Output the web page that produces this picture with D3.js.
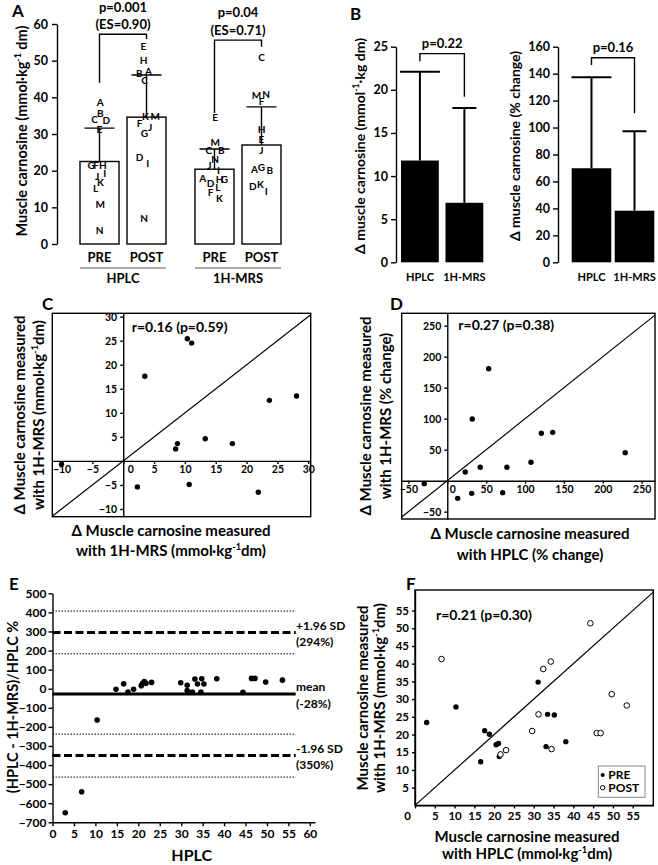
<!DOCTYPE html>
<html>
<head>
<meta charset="utf-8">
<script src="https://cdn.jsdelivr.net/npm/d3@7"></script>
<style>
  body { margin: 0; background: #fff; }
  svg text { font-family: Lato, "Open Sans", sans-serif; font-weight: 700; fill: #000; }
</style>
</head>
<body>
<svg id="chart" width="658" height="865"></svg>
<script>
// ---- A: carnosine per subject, bars = mean, whisker = SD
const methods = ["HPLC", "1H-MRS"];
const times = ["PRE", "POST"];
const meanA = [22.5, 34.6, 20.4, 27.0];
const sdA = [9.1, 11.5, 5.5, 10.4];
const subjectsA = ["ABCDEFGHIJKLMN", "EHBACKMFJGDIN", "EMCBNJIAHGDLFK", "CNMFHEJGABKDI"];
const valuesA = [
  [38.7, 35.5, 33.9, 33.7, 31.3, 21.4, 21.4, 21.4, 19.3, 18.4, 16.7, 15.2, 10.8, 3.8],
  [54.0, 50.0, 46.6, 47.2, 44.5, 34.7, 34.7, 32.9, 31.8, 30.2, 23.5, 22.0, 7.0],
  [34.4, 27.6, 25.4, 25.4, 23.1, 21.4, 20.2, 17.9, 17.5, 17.5, 16.5, 15.4, 14.0, 12.5],
  [50.9, 40.8, 40.4, 38.8, 31.3, 28.5, 25.6, 20.8, 20.4, 20.2, 16.3, 15.8, 14.3]
];
// sideways nudge (px) so letters with close values stay readable
const nudgeA = [
  [0.7, 0.7, -5, 6.7, 0, -3.3, -8.3, 3.3, 5.3, -2.3, 1, -4, 0.7, 0],
  [-3, -3, -7.3, 2, -2, -1, 8.7, -7, 3.7, -2, -7, 1.3, -2.3],
  [0.7, 0.7, -5.7, 6.7, 0.7, -5, 4, -11.7, 5, 10, -4, 3.3, -4, 5],
  [0, 4.7, -5, 0, 0, 0, 0, 0, -7, 8.3, -1, -8.7, 4.7]
];
const bracketA = [[43.9, 57.2, 55.9], [35.7, 55.6, 53.8]]; // left leg, top, right leg
const pA = ["p=0.001", "p=0.04"];
const esA = ["(ES=0.90)", "(ES=0.71)"];

// ---- B: change pre -> post
const deltaNames = ["HPLC", "1H-MRS"];
const deltaAbs = [11.8, 6.9];
const deltaAbsSd = [10.3, 11.0];
const deltaPct = [69.8, 38.3];
const deltaPctSd = [67.5, 58.9];
const bracketB = [[23.3, 24.2, 19.2], [146.4, 151.8, 110.6]];
const pB = ["p=0.22", "p=0.16"];

// ---- C: delta mmol/kg dm, HPLC vs 1H-MRS
const deltaHplc = [3.5, 10.4, 11.1, 8.8, 8.5, 13.3, 17.7, 23.7, 28.1, -10, 2.3, 10.7, 21.9];
const deltaMrs = [17.6, 25.4, 24.5, 3.6, 2.5, 4.6, 3.6, 12.6, 13.5, -0.7, -5.4, -4.9, -6.5];

// ---- D: delta %, HPLC vs 1H-MRS
const pctHplc = [53.2, 32.1, 121, 135.5, 228.8, 107.6, 76.7, 42.4, 23.1, -29.6, 13.4, 31.4, 71.2];
const pctMrs = [180.6, 99.5, 76.5, 78, 45.2, 29.7, 21.6, 21.6, 14, -4.8, -28.5, -20.4, -19.3];

// ---- E: Bland-Altman
const hplcE = [2.97, 6.8, 10.4, 14.8, 16.6, 17.6, 18.9, 20.7, 21.0, 21.4, 21.8, 23.1,
  29.9, 31.4, 31.4, 32.6, 33.2, 33.8, 34.8, 34.6, 35.3, 38.3, 44.4, 46.4, 47.2, 49.7, 53.6];
const diffE = [-650, -540, -164, -3, 26, -17, -3, 16, 28, 37, 28, 33,
  31, 18, -10, -17, 51, 25, 52, -17, 25, 52, -19, 54, 54, 35, 45];
const limitValues = [407, 294, 183, -28, -238, -350, -463];
const limitKinds = ["ci", "loa", "ci", "mean", "ci", "loa", "ci"];
const limitLabels = [[294, "+1.96 SD", "(294%)"], [-28, "mean", "(-28%)"], [-350, "-1.96 SD", "(350%)"]];

// ---- F: absolute values, HPLC vs 1H-MRS
const preHplc = [2.95, 10.35, 16.6, 17.6, 18.8, 20.5, 21.1, 21.3, 31.1, 33.1, 33.5, 35.2, 38.1];
const preMrs = [23.4, 27.8, 12.3, 21.1, 20.1, 17.1, 17.5, 13.8, 34.8, 16.6, 25.7, 25.5, 18.0];
const postHplc = [6.7, 21.6, 23.0, 29.6, 31.2, 32.4, 34.3, 34.5, 44.3, 45.9, 46.9, 49.7, 53.5];
const postMrs = [41.3, 14.4, 15.6, 21.0, 25.7, 38.5, 40.6, 15.9, 51.4, 20.4, 20.4, 31.4, 28.2];

const svg = d3.select("#chart");
const FONT = "Lato, 'Open Sans', sans-serif";
const LW = 1.4;

function styleAxis(g, size) {
  g.attr("font-family", FONT).attr("font-size", size).attr("font-weight", 700);
  g.selectAll("path, line").attr("stroke", "#000").attr("stroke-width", LW);
  g.selectAll("text").attr("fill", "#000");
}

// text with optional superscript parts: ["mmol·kg", {sup: "-1"}, "dm"]
function words(g, x, y, parts, size, opt = {}) {
  const t = g.append("text")
    .attr("transform", `translate(${x},${y})` + (opt.rotate ? " rotate(-90)" : ""))
    .attr("text-anchor", opt.anchor || "middle")
    .attr("font-size", size);
  if (opt.rotate) t.attr("dy", (size * 0.35) + "px");
  let back = 0;
  [].concat(parts).forEach(p => {
    const sup = typeof p !== "string";
    const s = t.append("tspan").text(sup ? p.sup : p);
    if (sup) { s.attr("font-size", size * 0.62).attr("dy", -size * 0.4); back = size * 0.4; }
    else if (back) { s.attr("dy", back); back = 0; }
  });
  return t;
}

const unitParts = ["(mmol·kg", { sup: "-1" }, "dm)"];

// ============ A ============
const yA = d3.scaleLinear().domain([0, 60]).range([244, 24]);
const xMethod = d3.scaleBand().domain(methods).range([80, 281]).paddingInner(0.252);
const xTime = d3.scaleBand().domain(times).range([0, xMethod.bandwidth()]).paddingInner(0.17);
const gA = svg.append("g");

gA.append("g").attr("transform", "translate(57,0)")
  .call(d3.axisLeft(yA).tickValues(d3.range(0, 61, 10)).tickSize(5).tickSizeOuter(0).tickPadding(4))
  .call(styleAxis, 12.5);

const barsA = methods.flatMap((m, i) => times.map((t, j) => {
  const x = xMethod(m) + xTime(t);
  return { m, t, k: i * 2 + j, x, cx: x + xTime.bandwidth() / 2 };
}));

gA.selectAll(".barA").data(barsA).join("rect").attr("class", "barA")
  .attr("x", d => d.x).attr("y", d => yA(meanA[d.k]))
  .attr("width", xTime.bandwidth()).attr("height", d => yA(0) - yA(meanA[d.k]))
  .attr("fill", "#fff").attr("stroke", "#000").attr("stroke-width", LW);

gA.selectAll(".sdA").data(barsA).join("path").attr("class", "sdA")
  .attr("d", d => {
    const top = yA(meanA[d.k] + sdA[d.k]);
    return `M${d.cx},${yA(meanA[d.k])}V${top}M${d.cx - 15},${top}h30`;
  })
  .attr("stroke", "#000").attr("stroke-width", LW);

barsA.forEach(b => {
  gA.selectAll(null).data(valuesA[b.k]).join("text")
    .attr("x", (v, i) => b.cx + nudgeA[b.k][i])
    .attr("y", v => yA(v)).attr("dy", "0.36em")
    .attr("text-anchor", "middle").attr("font-size", 10)
    .text((v, i) => subjectsA[b.k][i]);
  words(gA, b.cx, 261.5, b.t, 13);
});

methods.forEach((m, i) => {
  const [l, top, r] = bracketA[i];
  const x1 = xMethod(m) + xTime("PRE") + xTime.bandwidth() / 2;
  const x2 = xMethod(m) + xTime("POST") + xTime.bandwidth() / 2;
  gA.append("path").attr("d", `M${x1},${yA(l)}V${yA(top)}H${x2}V${yA(r)}`)
    .attr("fill", "none").attr("stroke", "#000").attr("stroke-width", LW);
  words(gA, (x1 + x2) / 2, yA(top) - 5.5, esA[i], 13);
  words(gA, (x1 + x2) / 2, Math.max(yA(top) - 23, 12), pA[i], 13);
  gA.append("line").attr("x1", xMethod(m)).attr("x2", xMethod(m) + xMethod.bandwidth())
    .attr("y1", 268).attr("y2", 268).attr("stroke", "#555").attr("stroke-width", 1);
  words(gA, xMethod(m) + xMethod.bandwidth() / 2, 283, m, 13);
});
words(gA, 22, 131, ["Muscle carnosine (mmol·kg", { sup: "-1" }, " dm)"], 14.5, { rotate: true });
words(gA, 12, 17, "A", 17, { anchor: "start" });

// ============ B ============
function deltaPanel(cfg) {
  const g = svg.append("g");
  const y = d3.scaleLinear().domain([0, cfg.max]).range([262.3, 46.7]);
  const x = d3.scaleBand().domain(deltaNames).range(cfg.range).paddingInner(cfg.pad);
  const cx = n => x(n) + x.bandwidth() / 2;

  g.append("g").attr("transform", `translate(${cfg.axisX},0)`)
    .call(d3.axisLeft(y).tickValues(d3.range(0, cfg.max + 1, cfg.step)).tickSize(5).tickSizeOuter(0).tickPadding(3))
    .call(styleAxis, 12.5);

  g.selectAll(".barB").data(deltaNames).join("rect").attr("class", "barB")
    .attr("x", n => x(n)).attr("width", x.bandwidth())
    .attr("y", (n, i) => y(cfg.mean[i])).attr("height", (n, i) => y(0) - y(cfg.mean[i]))
    .attr("fill", "#000");

  const capW = [40, 24];
  g.selectAll(".sdB").data(deltaNames).join("path").attr("class", "sdB")
    .attr("d", (n, i) => {
      const top = y(cfg.mean[i] + cfg.sd[i]);
      return `M${cx(n)},${y(cfg.mean[i])}V${top}M${cx(n) - capW[i] / 2},${top}h${capW[i]}`;
    })
    .attr("stroke", "#000").attr("stroke-width", 2);

  const [l, top, r] = cfg.bracket;
  g.append("path")
    .attr("d", `M${cx(deltaNames[0])},${y(l)}V${y(top)}H${cx(deltaNames[1])}V${y(r)}`)
    .attr("fill", "none").attr("stroke", "#000").attr("stroke-width", LW);
  words(g, (cx(deltaNames[0]) + cx(deltaNames[1])) / 2, y(top) - 6, cfg.p, 13);

  deltaNames.forEach(n => words(g, cx(n), 280.5, n, 11));
  words(g, cfg.labelX, 146, cfg.label, 14, { rotate: true });
}

deltaPanel({ max: 25, step: 5, range: [401, 483.3], pad: 0.15, axisX: 396,
  mean: deltaAbs, sd: deltaAbsSd, bracket: bracketB[0], p: pB[0], labelX: 360,
  label: ["Δ muscle carnosine (mmol", { sup: "-1" }, "·kg dm)"] });
deltaPanel({ max: 160, step: 20, range: [571.7, 654.3], pad: 0.08, axisX: 558,
  mean: deltaPct, sd: deltaPctSd, bracket: bracketB[1], p: pB[1], labelX: 515,
  label: "Δ muscle carnosine (% change)" });
words(svg, 350, 20, "B", 17, { anchor: "start" });

// ============ C, D ============
function deltaScatter(cfg) {
  const g = svg.append("g");
  const x = d3.scaleLinear().domain(cfg.xDomain).range([cfg.box[0], cfg.box[2]]);
  const y = d3.scaleLinear().domain(cfg.yDomain).range([cfg.box[3], cfg.box[1]]);

  g.append("rect").attr("x", cfg.box[0]).attr("y", cfg.box[1])
    .attr("width", cfg.box[2] - cfg.box[0]).attr("height", cfg.box[3] - cfg.box[1])
    .attr("fill", "none").attr("stroke", "#000").attr("stroke-width", LW);

  const ax = g.append("g").attr("transform", `translate(0,${y(0)})`)
    .call(d3.axisBottom(x).tickValues(cfg.xTicks).tickSize(3).tickSizeOuter(0).tickPadding(2))
    .call(styleAxis, 10.5);
  ax.selectAll(".tick text").filter(v => v === 0).attr("dx", cfg.zeroShift);
  g.append("g").attr("transform", `translate(${x(0)},0)`)
    .call(d3.axisLeft(y).tickValues(cfg.yTicks).tickSize(3).tickSizeOuter(0).tickPadding(3))
    .call(styleAxis, 10.5);

  const lo = Math.max(cfg.xDomain[0], cfg.yDomain[0]);
  const hi = Math.min(cfg.xDomain[1], cfg.yDomain[1]);
  g.append("line").attr("x1", x(lo)).attr("y1", y(lo)).attr("x2", x(hi)).attr("y2", y(hi))
    .attr("stroke", "#000").attr("stroke-width", 1.2);

  g.selectAll("circle").data(cfg.xs).join("circle")
    .attr("cx", d => x(d)).attr("cy", (d, i) => y(cfg.ys[i])).attr("r", 2.7).attr("fill", "#000");

  words(g, cfg.rPos[0], cfg.rPos[1], cfg.r, 14, { anchor: "start" });
  words(g, cfg.yLab[0], cfg.yLab[2], cfg.yLines[0], 15, { rotate: true });
  words(g, cfg.yLab[1], cfg.yLab[2], cfg.yLines[1], 15, { rotate: true });
  words(g, cfg.xLab[0], cfg.xLab[1], cfg.xLines[0], 15);
  words(g, cfg.xLab[0], cfg.xLab[2], cfg.xLines[1], 15);
  words(g, cfg.tag[0], cfg.tag[1], cfg.tag[2], 17, { anchor: "start" });
}

deltaScatter({
  box: [52.3, 313.3, 310.7, 516.7], xDomain: [-11.5, 30.4], yDomain: [-11.6, 30.7],
  xTicks: d3.range(-10, 31, 5), yTicks: [-10, -5, 5, 10, 15, 20, 25, 30], zeroShift: 7,
  xs: deltaHplc, ys: deltaMrs, r: "r=0.16 (p=0.59)", rPos: [131.7, 331.5],
  yLines: ["Δ Muscle carnosine measured", ["with 1H-MRS ", ...unitParts]], yLab: [20, 39, 415],
  xLines: ["Δ Muscle carnosine measured", ["with 1H-MRS ", ...unitParts]], xLab: [171, 536, 556],
  tag: [42, 310, "C"]
});
deltaScatter({
  box: [401.7, 313.3, 655, 519], xDomain: [-58.6, 267.1], yDomain: [-61.8, 270],
  xTicks: d3.range(-50, 251, 50), yTicks: [-50, 50, 100, 150, 200, 250], zeroShift: 5,
  xs: pctHplc, ys: pctMrs, r: "r=0.27 (p=0.38)", rPos: [458.3, 329.5],
  yLines: ["Δ Muscle carnosine measured", "with 1H-MRS (% change)"], yLab: [366, 386, 416],
  xLines: ["Δ Muscle carnosine measured", "with HPLC (% change)"], xLab: [530, 539, 560],
  tag: [390, 310, "D"]
});

// ============ E ============
const gE = svg.append("g");
const xE = d3.scaleLinear().domain([0, 61.2]).range([52.5, 315]);
const yE = d3.scaleLinear().domain([-700, 500]).range([822.3, 593.3]);

const limitStyle = {
  ci: { w: 1, dash: "1.5,1.5" },
  loa: { w: 3, dash: "8,3.5" },
  mean: { w: 3, dash: null }
};
gE.selectAll(".limit").data(limitValues).join("line").attr("class", "limit")
  .attr("x1", xE(0)).attr("x2", xE(56.7))
  .attr("y1", v => yE(v)).attr("y2", v => yE(v))
  .attr("stroke", "#000")
  .attr("stroke-width", (v, i) => limitStyle[limitKinds[i]].w)
  .attr("stroke-dasharray", (v, i) => limitStyle[limitKinds[i]].dash);

limitLabels.forEach(([v, a, b]) => {
  words(gE, 296, yE(v) - 3, a, 12, { anchor: "start" });
  words(gE, 296, yE(v) + 13.5, b, 12, { anchor: "start" });
});

gE.append("g").attr("transform", "translate(52.5,0)")
  .call(d3.axisLeft(yE).tickValues(d3.range(-700, 501, 100)).tickSize(4).tickSizeOuter(0).tickPadding(2))
  .call(styleAxis, 12);
gE.append("g").attr("transform", `translate(0,${yE(-700)})`)
  .call(d3.axisBottom(xE).tickValues(d3.range(0, 61, 5)).tickSize(4).tickSizeOuter(0).tickPadding(3))
  .call(styleAxis, 12);

gE.selectAll("circle").data(hplcE).join("circle")
  .attr("cx", d => xE(d)).attr("cy", (d, i) => yE(diffE[i])).attr("r", 2.8).attr("fill", "#000");

words(gE, 191.7, 861, "HPLC", 16);
words(gE, 13, 707, "(HPLC - 1H-MRS)/HPLC %", 14.5, { rotate: true });
words(gE, 9, 590, "E", 17, { anchor: "start" });

// ============ F ============
const gF = svg.append("g");
const xF = d3.scaleLinear().domain([0, 60.2]).range([415, 653.3]);
const yF = d3.scaleLinear().domain([0, 60.8]).range([805.4, 590]);

gF.append("rect").attr("x", 415).attr("y", 590).attr("width", 238.3).attr("height", 215.4)
  .attr("fill", "none").attr("stroke", "#000").attr("stroke-width", LW);
gF.append("g").attr("transform", "translate(415,0)")
  .call(d3.axisLeft(yF).tickValues(d3.range(5, 56, 5)).tickSize(3).tickSizeOuter(0).tickPadding(3))
  .call(styleAxis, 11.5);
const axF = gF.append("g").attr("transform", "translate(0,805.4)")
  .call(d3.axisBottom(xF).tickValues(d3.range(0, 56, 5)).tickSize(3).tickSizeOuter(0).tickPadding(3))
  .call(styleAxis, 11.5);
axF.selectAll(".tick text").filter(v => v === 0).attr("dx", -8);

gF.append("line").attr("x1", xF(0)).attr("y1", yF(0)).attr("x2", xF(60.2)).attr("y2", yF(60.2))
  .attr("stroke", "#000").attr("stroke-width", 1.2);

gF.selectAll(".pre").data(preHplc).join("circle").attr("class", "pre")
  .attr("cx", d => xF(d)).attr("cy", (d, i) => yF(preMrs[i])).attr("r", 2.7).attr("fill", "#000");
gF.selectAll(".post").data(postHplc).join("circle").attr("class", "post")
  .attr("cx", d => xF(d)).attr("cy", (d, i) => yF(postMrs[i])).attr("r", 2.8)
  .attr("fill", "#fff").attr("stroke", "#000").attr("stroke-width", 1);

const legend = gF.append("g").attr("transform", "translate(598.3,766)");
legend.append("rect").attr("width", 46.7).attr("height", 31.3)
  .attr("fill", "#fff").attr("stroke", "#888").attr("stroke-width", 1);
legend.append("circle").attr("cx", 4.4).attr("cy", 9).attr("r", 2).attr("fill", "#000");
legend.append("circle").attr("cx", 4.4).attr("cy", 21.7).attr("r", 2.2)
  .attr("fill", "#fff").attr("stroke", "#000").attr("stroke-width", 1);
words(legend, 10, 13, "PRE", 12, { anchor: "start" });
words(legend, 10, 26, "POST", 12, { anchor: "start" });

words(gF, 436, 620, "r=0.21 (p=0.30)", 14, { anchor: "start" });
words(gF, 363, 698, "Muscle carnosine measured", 15, { rotate: true });
words(gF, 380, 698, ["with 1H-MRS ", ...unitParts], 15, { rotate: true });
words(gF, 527, 842, "Muscle carnosine measured", 15);
words(gF, 527, 859, ["with HPLC ", ...unitParts], 15);
words(gF, 406, 590, "F", 17, { anchor: "start" });
</script>
</body>
</html>
